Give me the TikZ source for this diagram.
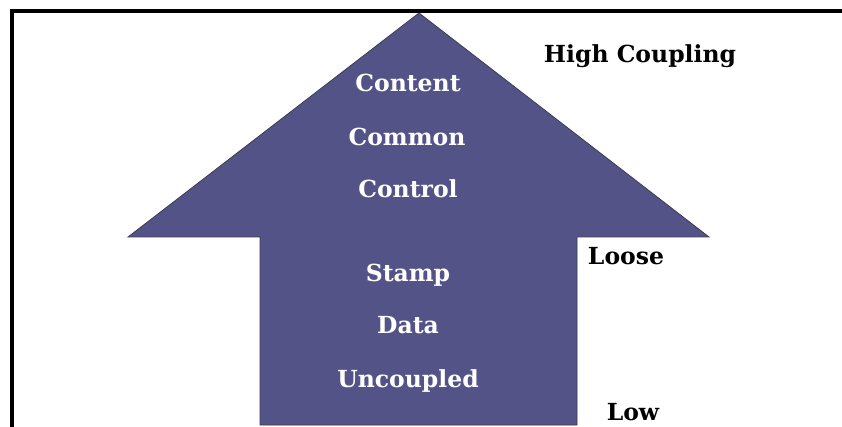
\documentclass[tikz,border=0pt]{standalone}
\usepackage{fontspec}
\setmainfont{DejaVu Serif}
\definecolor{arrowfill}{RGB}{83,83,136}
\definecolor{arrowedge}{RGB}{60,60,80}
\begin{document}
\begin{tikzpicture}[x=1pt,y=-1pt,
  inlbl/.style={anchor=base,inner sep=0pt,text=white,font=\fontsize{23.5}{28}\selectfont\bfseries},
  outlbl/.style={anchor=base,inner sep=0pt,text=black,font=\fontsize{23.5}{28}\selectfont\bfseries},
  frameline/.style={line width=4pt,black}]
\useasboundingbox (0,0) rectangle (842,427);
\fill[white] (0,0) rectangle (842,427);
% frame
\draw[frameline] (10,11) -- (842,11);
\draw[frameline] (12,9) -- (12,427);
% arrow
\draw[fill=arrowfill,draw=arrowedge,line width=0.8pt,line join=miter]
  (419,13) -- (709,237) -- (577,237) -- (577,425) -- (260,425) -- (260,237) -- (128,237) -- cycle;
% inner labels
\node[inlbl] (content) at (408,92) {Content};
\node[inlbl] (common) at (407,146) {Common};
\node[inlbl] (control) at (408,198) {Control};
\node[inlbl] (stamp) at (408,281) {Stamp};
\node[inlbl] (data) at (408,333) {Data};
\node[inlbl] (uncoupled) at (408,387) {Uncoupled};
% outer labels
\node[outlbl] (high) at (640,63) {High Coupling};
\node[outlbl] (loose) at (626,265) {Loose};
\node[outlbl] (low) at (633,420) {Low};
\end{tikzpicture}
\end{document}
